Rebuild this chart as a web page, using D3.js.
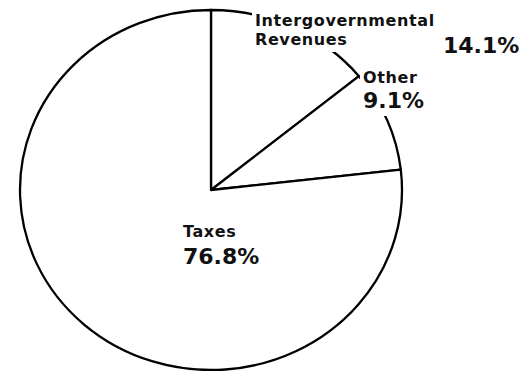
<!DOCTYPE html>
<html>
<head>
<meta charset="utf-8">
<script src="https://cdn.jsdelivr.net/npm/d3@7"></script>
<style>
  body { margin: 0; background: #fff; }
  svg { display: block; }
  text { font-family: 'DejaVu Sans', sans-serif; font-weight: bold; fill: #111; }
</style>
</head>
<body>
<div id="svg-container"></div>
<script>
// data
const categories = ['Intergovernmental Revenues', 'Other', 'Taxes']
const shares = [14.1, 9.1, 76.8]
const nameLines = [['Intergovernmental', 'Revenues'], ['Other'], ['Taxes']]

;(function () {
  const svgWidth = 524
  const svgHeight = 371

  // the scanned pie is a little wider than tall
  const cx = 211
  const cy = 190
  const ry = 180
  const rx = 191

  const nameSize = 16
  const pctSize = 22
  const lineGap = 19

  // where each label block sits (first name baseline, then the percentage)
  const labelLayout = {
    'Intergovernmental Revenues': { x: 255, y: 26, pctX: 443, pctY: 53 },
    Other: { x: 363, y: 83, pctX: 363, pctY: 108 },
    Taxes: { x: 183, y: 237, pctX: 183, pctY: 264 },
  }

  const data = categories.map((name, i) => ({
    name,
    value: shares[i],
    lines: nameLines[i],
  }))

  const pie = d3.pie().sort(null).value(d => d.value)
  const arcs = pie(data)
  const arc = d3.arc().innerRadius(0).outerRadius(ry)

  const svg = d3
    .select('#svg-container')
    .append('svg')
    .attr('width', svgWidth)
    .attr('height', svgHeight)
    .style('background', '#fff')

  const chartCore = svg
    .append('g')
    .attr('transform', `translate(${cx}, ${cy}) scale(${rx / ry}, 1)`)

  chartCore
    .selectAll('path')
    .data(arcs)
    .join('path')
    .attr('d', arc)
    .attr('fill', '#fff')
    .attr('stroke', '#000')
    .attr('stroke-width', 2.3)
    .attr('stroke-linejoin', 'round')
    .attr('vector-effect', 'non-scaling-stroke')

  const fmt = v => `${v.toFixed(1)}%`

  const labels = svg.append('g').selectAll('g').data(data).join('g')

  labels.each(function (d) {
    const g = d3.select(this)
    const pos = labelLayout[d.name]
    const text = g.append('text')

    const nameSpans = d.lines.map((line, i) =>
      text
        .append('tspan')
        .attr('x', pos.x)
        .attr('y', pos.y + i * lineGap)
        .style('font-size', `${nameSize}px`)
        .style('letter-spacing', '0.6px')
        .text(line),
    )
    const pctSpan = text
      .append('tspan')
      .attr('x', pos.pctX)
      .attr('y', pos.pctY)
      .style('font-size', `${pctSize}px`)
      .text(fmt(d.value))

    // white knockout behind the words, as in the pasted-up original
    const boxes = nameSpans.map(s => s.node().getBBox())
    const pctBox = pctSpan.node().getBBox()
    const stacked = Math.abs(pos.pctX - pos.x) < 5
    if (stacked) boxes.push(pctBox)
    const x0 = d3.min(boxes, b => b.x) - 3
    const y0 = d3.min(boxes, b => b.y) - 3
    const x1 = d3.max(boxes, b => b.x + b.width) + 3
    const y1 = d3.max(boxes, b => b.y + b.height) + 3
    g.insert('rect', ':first-child')
      .attr('x', x0)
      .attr('y', y0)
      .attr('width', x1 - x0)
      .attr('height', y1 - y0)
      .attr('fill', '#fff')
    if (!stacked) {
      g.insert('rect', ':first-child')
        .attr('x', pctBox.x - 3)
        .attr('y', pctBox.y - 2)
        .attr('width', pctBox.width + 6)
        .attr('height', pctBox.height + 4)
        .attr('fill', '#fff')
    }
  })
})()
</script>
</body>
</html>
